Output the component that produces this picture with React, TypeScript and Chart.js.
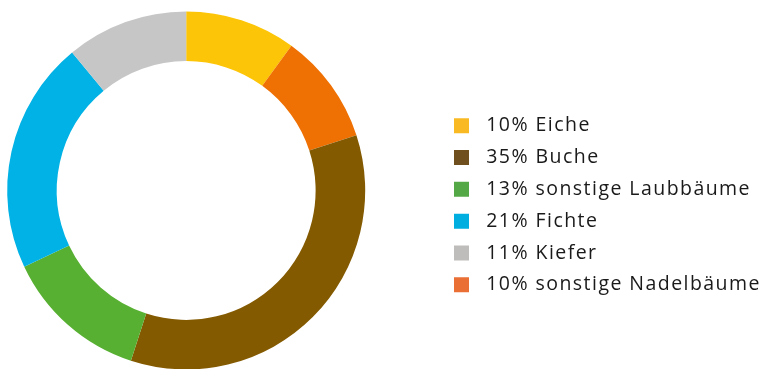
import React, { useEffect, useRef } from "react";
import { Chart, registerables } from "chart.js";

Chart.register(...registerables);

// Slices in drawing order (clockwise from top)
const speciesNames = ["Eiche", "sonstige Nadelbäume", "Buche", "sonstige Laubbäume", "Fichte", "Kiefer"];
const speciesShares = [10, 10, 35, 13, 21, 11];
const sliceColors = ["#FDC507", "#EF7104", "#845A00", "#57B031", "#00B2E5", "#C6C6C6"];
const legendColors = ["#F9B923", "#E96F35", "#6F4F1E", "#55A846", "#00AEDF", "#BEBDBB"];
// Legend order (indices into the arrays above)
const legendOrder = [0, 2, 3, 4, 5, 1];

const FONT_FAMILY = '"Open Sans", "Noto Sans", sans-serif';
const FONT_SIZE = 19.5;
const LETTER_SPACING = "1.45px";

const VIEW_W = 767;
const VIEW_H = 369;
const CANVAS_W = 860;
const CANVAS_H = 372;
const SHIFT_X = 80;

export default function App() {
  const canvasRef = useRef<HTMLCanvasElement | null>(null);

  useEffect(() => {
    const canvas = canvasRef.current;
    if (!canvas) return;
    const ctx = canvas.getContext("2d");
    if (!ctx) return;

    const labelTexts = speciesNames.map((n, i) => `${speciesShares[i]}% ${n}`);
    (ctx as any).letterSpacing = LETTER_SPACING;
    ctx.save();
    ctx.font = `${FONT_SIZE}px ${FONT_FAMILY}`;
    const textW = Math.max(...labelTexts.map((t) => ctx.measureText(t).width));
    ctx.restore();

    const boxSize = 30;
    const labelPad = 1.8;
    const legendLeft = 444.7 + SHIFT_X;
    const legendWidth = labelPad + boxSize + FONT_SIZE / 2 + textW + 10;
    const centerX = 186.2 + SHIFT_X;
    const padRight = CANVAS_W - legendLeft - legendWidth;
    const padLeft = 2 * centerX - legendLeft;

    const spacingPlugin = {
      id: "legendLetterSpacing",
      beforeUpdate(c: any) {
        c.ctx.letterSpacing = LETTER_SPACING;
      },
      beforeDraw(c: any) {
        c.ctx.letterSpacing = LETTER_SPACING;
      },
    };

    const chart = new Chart(ctx, {
      type: "doughnut",
      data: {
        labels: labelTexts,
        datasets: [
          {
            data: speciesShares,
            backgroundColor: sliceColors,
            borderWidth: 0,
            hoverOffset: 0,
          },
        ],
      },
      plugins: [spacingPlugin],
      options: {
        responsive: false,
        animation: false,
        devicePixelRatio: 1,
        cutout: "72.3%",
        layout: {
          padding: { left: padLeft, right: padRight, top: 11.5, bottom: CANVAS_H - 369.5 },
        },
        plugins: {
          tooltip: { enabled: false },
          legend: {
            position: "right",
            align: "center",
            title: {
              display: true,
              text: " ",
              font: { size: 10, lineHeight: 1 },
              padding: { top: 19.5, bottom: 0 },
            },
            labels: {
              boxWidth: boxSize,
              boxHeight: boxSize,
              padding: labelPad,
              color: "#1A1A1A",
              font: { family: FONT_FAMILY, size: FONT_SIZE },
              generateLabels: () =>
                legendOrder.map((i) => ({
                  text: labelTexts[i],
                  fillStyle: legendColors[i],
                  strokeStyle: "#FFFFFF",
                  lineWidth: 15,
                  hidden: false,
                  index: i,
                  fontColor: "#1A1A1A",
                })),
            },
          },
        },
      },
    });

    return () => chart.destroy();
  }, []);

  return (
    <div
      style={{
        position: "absolute",
        left: 0,
        top: 0,
        width: VIEW_W,
        height: VIEW_H,
        overflow: "hidden",
      }}
    >
      <canvas
        ref={canvasRef}
        width={CANVAS_W}
        height={CANVAS_H}
        style={{ position: "absolute", left: -SHIFT_X, top: 0, width: CANVAS_W, height: CANVAS_H }}
      />
    </div>
  );
}
